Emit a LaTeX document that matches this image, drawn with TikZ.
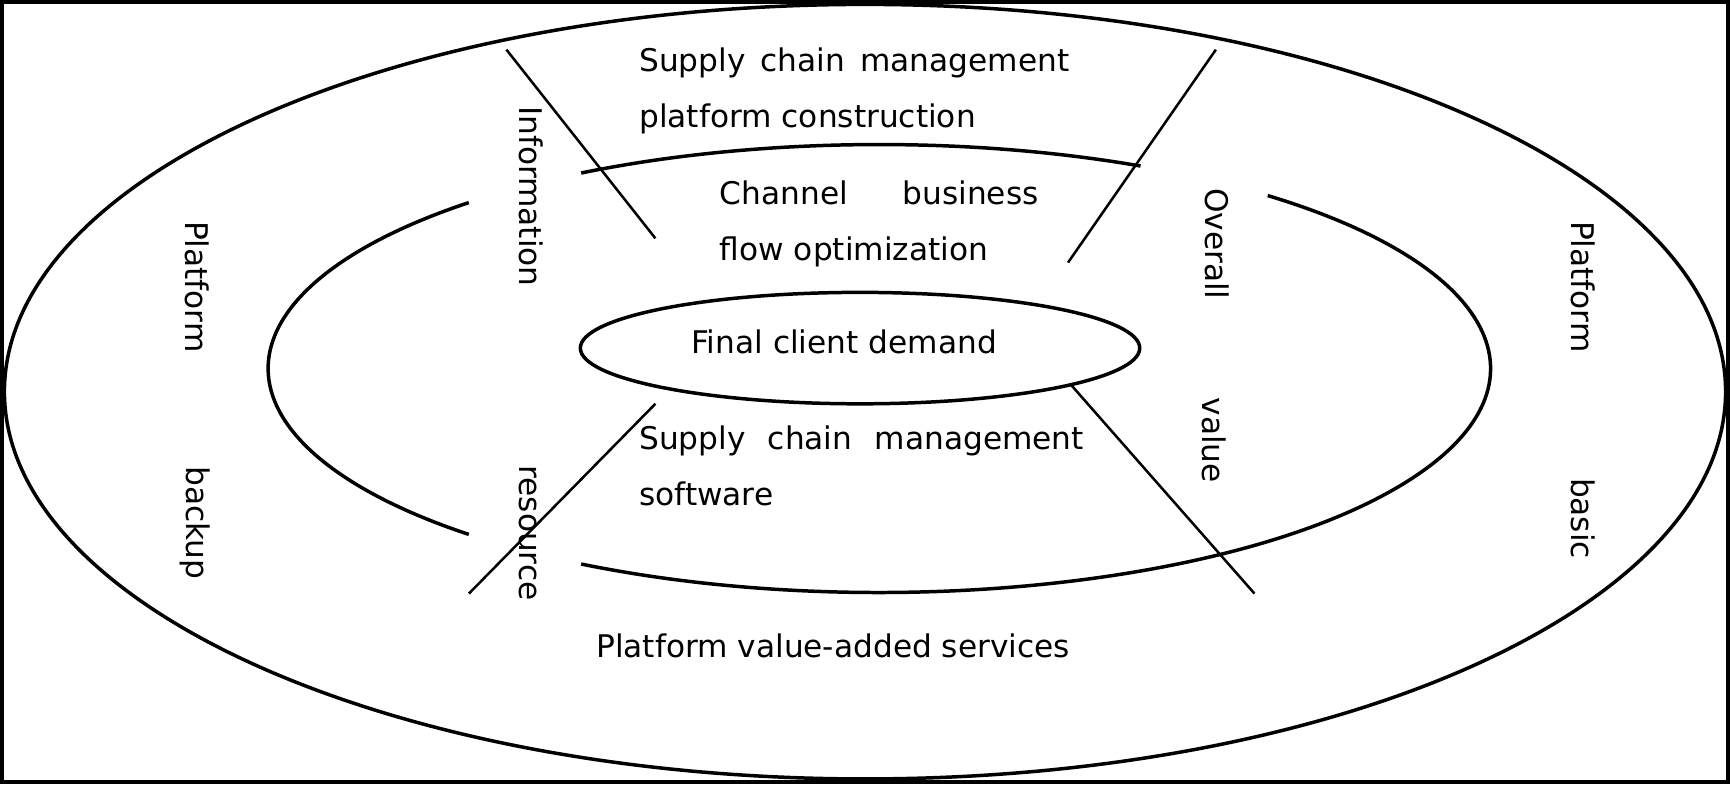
\documentclass[tikz,border=0pt]{standalone}
\usepackage{fontspec}
\setmainfont{DejaVu Sans}
\usepackage{tikz}
\usetikzlibrary{positioning}

\begin{document}
\begin{tikzpicture}[x=0.02cm, y=0.02cm,
        font=\fontsize{16.1}{29}\selectfont,
        ring/.style={line width=1.8pt},
        cut/.style={line width=1.3pt},
        vtext/.style={rotate=-90, inner sep=0pt},
        block/.style={align=left, inner sep=0pt, anchor=base west}]
        \useasboundingbox (0,0) rectangle (1568,711);
        \draw[line width=2pt] (2,2) rectangle (1566,709);
        \draw[ring] (784,356) ellipse [x radius=780, y radius=351];
        \draw[ring] (797,377) ++(132.2:554 and 203) arc[start angle=132.2, end angle=227.8, x radius=554, y radius=203];
        \draw[ring] (797,377) ++(64.7:554 and 203) arc[start angle=64.7, end angle=119.2, x radius=554, y radius=203];
        \draw[ring] (797,377) ++(240.8:554 and 203) arc[start angle=240.8, end angle=410.55, x radius=554, y radius=203];
        \draw[ring] (779.5,395.5) ellipse [x radius=253.5, y radius=50.5];
        \draw[cut] (459,666) -- (594,495);
        \draw[cut] (1102,666) -- (968,473);
        \draw[cut] (594,345) -- (425,173);
        \draw[cut] (970,363) -- (1137,173);
        \node[block] (scmplat) at (579,595) {\makebox[7.8cm][s]{Supply chain management}\\platform construction};
        \node[block] (channel) at (652,475) {\makebox[5.78cm][s]{Channel business}\\flow optimization};
        \node[anchor=base, inner sep=0pt] (demand) at (765,391) {Final client demand};
        \node[block] (scmsoft) at (579,252.5) {\makebox[8.06cm][s]{Supply chain management}\\software};
        \node[block] (services) at (540,115) {Platform value-added services};
        \node[vtext] (info) at (481,533) {Information};
        \node[vtext] (res) at (479,228) {resource};
        \node[vtext] (platl) at (179,451) {Platform};
        \node[vtext] (backup) at (177,237) {backup};
        \node[vtext] (overall) at (1103,490) {Overall};
        \node[vtext] (value) at (1100,312) {value};
        \node[vtext] (platr) at (1435,451) {Platform};
        \node[vtext] (basic) at (1435,241) {basic};
    \end{tikzpicture}
\end{document}
